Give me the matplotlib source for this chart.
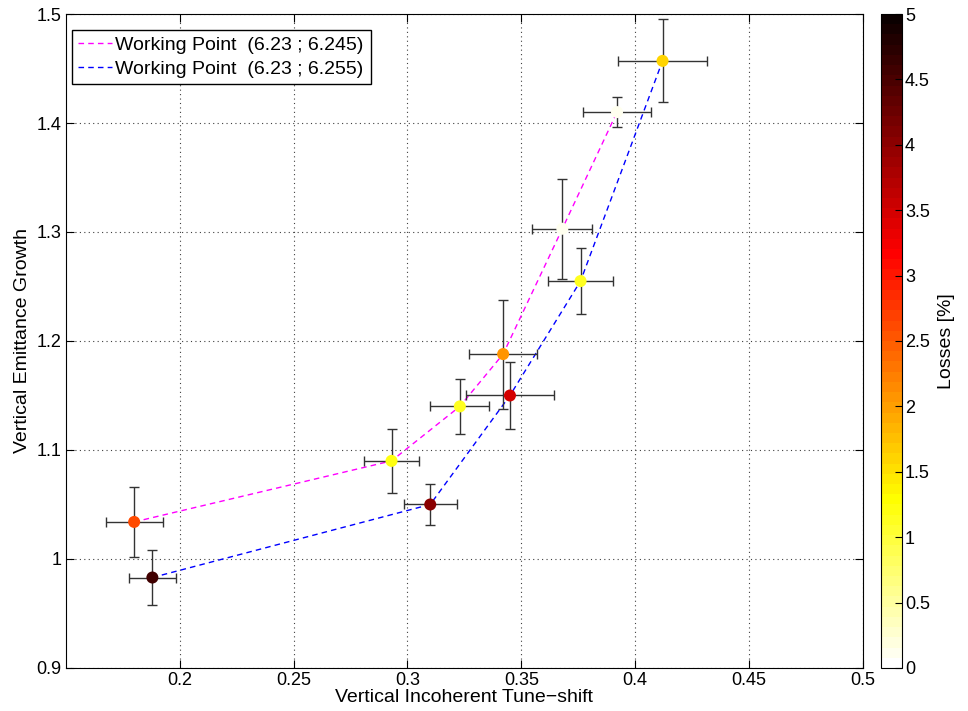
import matplotlib
matplotlib.use('Agg')
import matplotlib.pyplot as plt
from matplotlib.ticker import FormatStrFormatter

plt.rcParams['font.family'] = ['Liberation Sans', 'DejaVu Sans']

# Working point (6.23 ; 6.245)
x1 = [0.180, 0.293, 0.323, 0.342, 0.368, 0.392]
y1 = [1.034, 1.090, 1.140, 1.188, 1.303, 1.410]
xe1 = [0.0125, 0.012, 0.013, 0.015, 0.0132, 0.0148]
ye1 = [0.032, 0.029, 0.025, 0.050, 0.046, 0.014]
loss1 = [2.6, 1.2, 1.1, 2.1, 0.1, 0.1]

# Working point (6.23 ; 6.255)
x2 = [0.188, 0.310, 0.345, 0.376, 0.412]
y2 = [0.983, 1.050, 1.150, 1.255, 1.457]
xe2 = [0.0103, 0.0116, 0.0195, 0.0142, 0.0195]
ye2 = [0.025, 0.019, 0.031, 0.030, 0.038]
loss2 = [4.6, 4.0, 3.5, 1.1, 1.6]

xticks = [0.2, 0.25, 0.3, 0.35, 0.4, 0.45, 0.5]
yticks = [0.9, 1.0, 1.1, 1.2, 1.3, 1.4, 1.5]
cticks = [0, 0.5, 1, 1.5, 2, 2.5, 3, 3.5, 4, 4.5, 5]

fig = plt.figure(figsize=(9.68, 7.11), dpi=100)
ax = fig.add_axes([0.068, 0.0605, 0.8235, 0.9198])
cax = fig.add_axes([0.910, 0.0605, 0.022, 0.9198])

cmap = plt.get_cmap('hot_r', 64)

ax.plot(x1, y1, color='#ff00ff', ls=(0, (4, 3)), lw=1, label='Working Point  (6.23 ; 6.245)', zorder=2)
ax.plot(x2, y2, color='#0000ff', ls=(0, (4, 3)), lw=1, label='Working Point  (6.23 ; 6.255)', zorder=2)

ax.errorbar(x1, y1, xerr=xe1, yerr=ye1, fmt='none', ecolor='0.2', elinewidth=1, capsize=3.5, zorder=3)
ax.errorbar(x2, y2, xerr=xe2, yerr=ye2, fmt='none', ecolor='0.2', elinewidth=1, capsize=3.5, zorder=3)

sc = ax.scatter(x1 + x2, y1 + y2, c=loss1 + loss2, cmap=cmap, vmin=0, vmax=5,
                s=75, edgecolors='none', zorder=4)

ax.set_xlim(0.15, 0.5)
ax.set_ylim(0.9, 1.5)
ax.set_xticks(xticks)
ax.set_yticks(yticks)
ax.xaxis.set_major_formatter(FormatStrFormatter('%g'))
ax.yaxis.set_major_formatter(FormatStrFormatter('%g'))
ax.tick_params(direction='in', top=True, right=True, labelsize=13, length=6, pad=3)
ax.grid(True, ls=(0, (1, 3)), color='0.25', lw=0.8)
ax.set_xlabel('Vertical Incoherent Tune\u2212shift', fontsize=14, labelpad=0)
ax.set_ylabel('Vertical Emittance Growth', fontsize=14, labelpad=4)

leg = ax.legend(loc='upper left', fontsize=14, fancybox=False, framealpha=1,
                edgecolor='k', handlelength=1.75, handletextpad=0.15,
                borderaxespad=0.3, borderpad=0.35, labelspacing=0.3,
                bbox_to_anchor=(0.0, 0.985))
leg.get_frame().set_linewidth(1)

cb = fig.colorbar(sc, cax=cax, ticks=cticks)
cb.ax.yaxis.set_major_formatter(FormatStrFormatter('%g'))
cb.ax.tick_params(direction='in', labelsize=13, length=5, pad=2)
cb.set_label('Losses [%]', fontsize=14, labelpad=6)

fig.savefig('out.png', dpi=100)
